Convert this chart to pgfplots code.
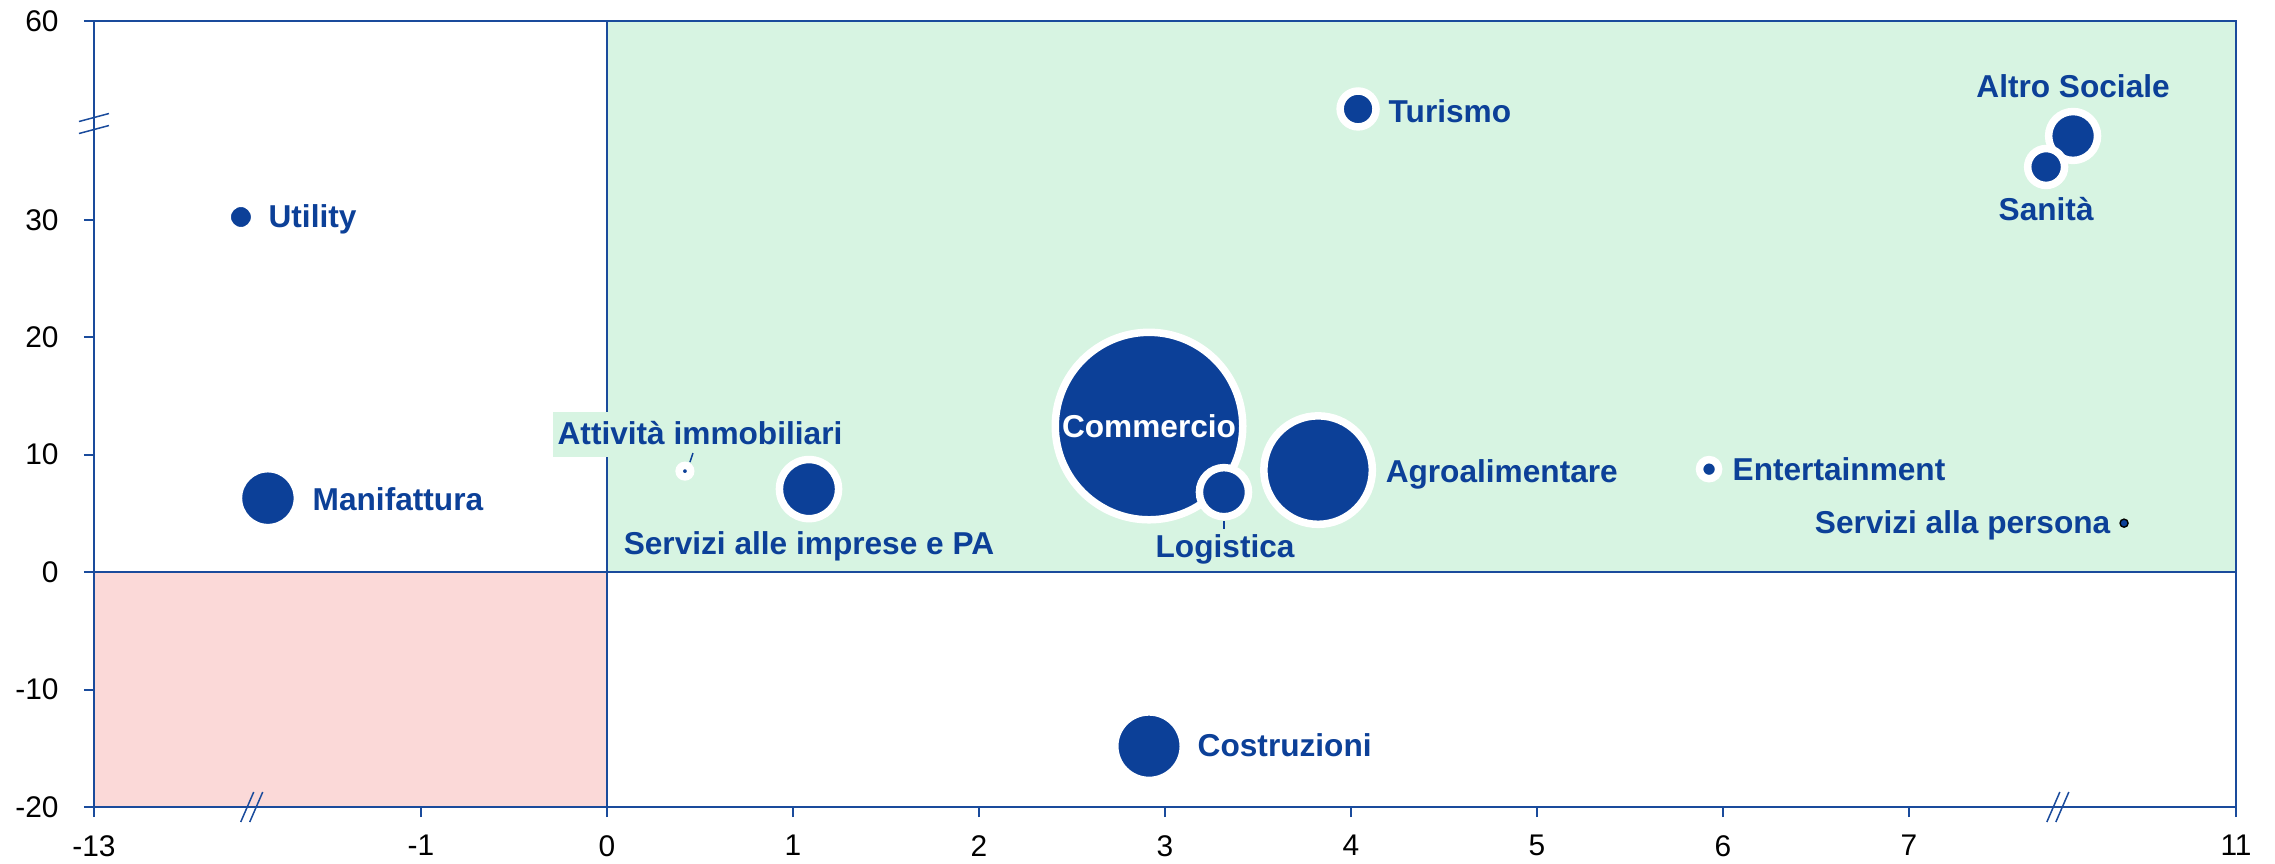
\documentclass[border=0pt]{standalone}
\usepackage{fontspec}
\setmainfont{Liberation Sans}
\usepackage{pgfplots}
\usepackage{pgfplotstable}
\pgfplotsset{compat=1.18}

\definecolor{bubble}{RGB}{12,64,152}
\definecolor{axisblue}{RGB}{26,75,156}
\definecolor{zonegreen}{RGB}{215,244,226}
\definecolor{zonepink}{RGB}{251,217,216}

% x, y in plotted (broken-axis) units, r = radius of the blue disc in px
\pgfplotstableread{
x      y       r
-1.968 30.24   10
-1.823 6.30    25.7
2.914  -14.82  30.5
2.914  12.44   90
3.317  6.81    20.8
3.823  8.69    50.5
1.086  7.07    25.8
0.419  8.60    2
4.038  39.44   14.2
5.925  8.77    5.8
7.882  37.14   20.7
7.737  34.50   14.7
}\bubbles

\begin{document}
\begin{tikzpicture}[
  lab/.style={font=\fontsize{9}{10}\selectfont\bfseries, text=bubble, inner sep=0pt, text height=0.72em, text depth=0pt},
  brk/.style={axisblue, line width=0.15mm}]
\begin{axis}[
  scale only axis, width=214.2mm, height=78.6mm,
  xmin=-2.758, xmax=8.758, ymin=-20, ymax=46.93,
  axis on top, clip=false,
  axis line style={axisblue, line width=0.25mm},
  xtick={-2.758,-1,0,1,2,3,4,5,6,7,8.758},
  xticklabels={-13,-1,0,1,2,3,4,5,6,7,11},
  ytick={-20,-10,0,10,20,30,46.93},
  yticklabels={-20,-10,0,10,20,30,60},
  tick align=outside, xtick pos=bottom, ytick pos=left,
  major tick length=1mm,
  tick style={axisblue, line width=0.2mm},
  ticklabel style={font=\fontsize{8.5}{10}\selectfont, text=black},
  /pgf/number format/assume math mode=true,
  xticklabel style={yshift=-0.6mm},
  yticklabel style={xshift=-1.3mm},
]
\fill[zonegreen] (axis cs:0,0) rectangle (axis cs:8.758,46.93);
\fill[zonepink] (axis cs:-2.758,-20) rectangle (axis cs:0,0);
\draw[axisblue, line width=0.2mm] (axis cs:0,-20) -- (axis cs:0,46.93);
\draw[axisblue, line width=0.2mm] (axis cs:-2.758,0) -- (axis cs:8.758,0);

\addplot[scatter, only marks, mark=*, scatter src=explicit,
  scatter/use mapped color={draw=white, fill=bubble},
  mark options={line width=0.75mm},
  visualization depends on={(\thisrow{r}+3.75)*0.2845 \as \rad},
  scatter/@pre marker code/.append style={/tikz/mark size=\rad}]
  table[x=x, y=y, meta=r] {\bubbles};

\addplot[only marks, mark=*, mark size=1.15pt, mark options={draw=none, fill=bubble}]
  coordinates {(8.156,4.17)};

\coordinate (com) at (axis cs:2.914,12.52);
\node[lab, anchor=west] at (axis cs:-1.823,30.40) {Utility};
\node[lab, anchor=west] at (axis cs:-1.586,6.30) {Manifattura};
\node[lab, anchor=west] at (axis cs:3.172,-14.65) {Costruzioni};
\node[lab, anchor=west] at (axis cs:4.199,39.35) {Turismo};
\node[lab, anchor=west] at (axis cs:6.048,8.86) {Entertainment};
\node[lab, anchor=west] at (axis cs:4.183,8.69) {Agroalimentare};
\node[lab] at (axis cs:3.323,2.30) {Logistica};
\draw[bubble, line width=0.15mm] (axis cs:3.317,4.34) -- (axis cs:3.317,3.66);
\node[lab] at (axis cs:1.086,2.56) {Servizi alle imprese e PA};
\node[lab, fill=zonegreen, inner xsep=0.5mm, inner ysep=0.7mm, text depth=0.15em, anchor=base]
  at (axis cs:0.50,10.87) {Attività immobiliari};
\draw[bubble, line width=0.15mm] (axis cs:0.462,10.14) -- (axis cs:0.446,9.37);
\node[lab] at (axis cs:7.882,41.48) {Altro Sociale};
\node[lab] at (axis cs:7.737,31.0) {Sanità};
\node[lab, anchor=east] at (axis cs:8.086,4.34) {Servizi alla persona};

% axis breaks
\draw[brk] ([shift={(-1.5mm,0.2mm)}]axis cs:-2.758,38.2) -- ([shift={(1.5mm,1.0mm)}]axis cs:-2.758,38.2);
\draw[brk] ([shift={(-1.5mm,-1.0mm)}]axis cs:-2.758,38.2) -- ([shift={(1.5mm,-0.2mm)}]axis cs:-2.758,38.2);
\draw[brk] ([shift={(-1.1mm,-1.5mm)}]axis cs:-1.91,-20) -- ([shift={(0.2mm,1.5mm)}]axis cs:-1.91,-20);
\draw[brk] ([shift={(-0.2mm,-1.5mm)}]axis cs:-1.91,-20) -- ([shift={(1.1mm,1.5mm)}]axis cs:-1.91,-20);
\draw[brk] ([shift={(-1.1mm,-1.5mm)}]axis cs:7.80,-20) -- ([shift={(0.2mm,1.5mm)}]axis cs:7.80,-20);
\draw[brk] ([shift={(-0.2mm,-1.5mm)}]axis cs:7.80,-20) -- ([shift={(1.1mm,1.5mm)}]axis cs:7.80,-20);
\end{axis}
\node[lab, text=white] at (com) {Commercio};
\pgfresetboundingbox
\path[use as bounding box] ([shift={(-9.4mm,-5.6mm)}]current axis.south west) rectangle ([shift={(3.9mm,2.1mm)}]current axis.north east);
\end{tikzpicture}
\end{document}
